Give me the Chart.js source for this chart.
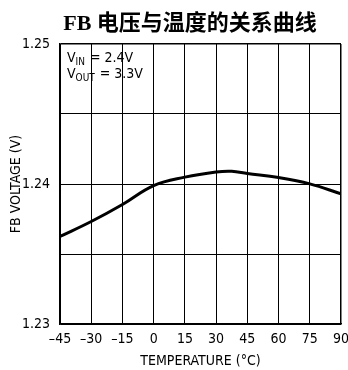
<!DOCTYPE html>
<html>
<head>
<meta charset="utf-8">
<script src="https://cdn.jsdelivr.net/npm/chart.js@4.4.0/dist/chart.umd.min.js"></script>
<style>
  html, body { margin: 0; padding: 0; background: #fff; }
  #wrap { width: 348px; height: 370px; }
</style>
</head>
<body>
<div id="wrap"><canvas id="c" width="348" height="370"></canvas></div>
<script>
// readings (temperature in degC, FB voltage in V)
var temps = [-45, -30, -15, 0, 15, 30, 37.5, 45, 60, 75, 90];
var fbVolts = [1.23625, 1.23732, 1.23854, 1.23989, 1.24049, 1.24086, 1.24091, 1.24075, 1.24046, 1.24001, 1.2393];

var xTicks = [-45, -30, -15, 0, 15, 30, 45, 60, 75, 90];
var yLabels = [1.23, 1.24, 1.25];

var chartTitle = 'FB 电压与温度的关系曲线';
var xTitle = 'TEMPERATURE (°C)';
var yTitle = 'FB VOLTAGE (V)';

var tickFont = { family: '"Liberation Sans Narrow", "DejaVu Sans Condensed", sans-serif', size: 14 };

var points = temps.map(function(t, i) { return { x: t, y: fbVolts[i] }; });

// title + the VIN/VOUT note inside the plot
var extras = {
    id: 'extras',
    afterDraw: function(chart) {
        var ctx = chart.ctx;
        ctx.save();
        ctx.fillStyle = '#000';
        ctx.textBaseline = 'alphabetic';
        ctx.textAlign = 'center';
        ctx.font = 'bold 22px "Liberation Serif", "Noto Sans CJK SC", serif';
        ctx.fillText(chartTitle, 190, 30);

        var note = function(x, y, sub, rest) {
            ctx.textAlign = 'left';
            ctx.font = '14px ' + tickFont.family;
            ctx.fillText('V', x, y);
            var w = ctx.measureText('V').width;
            ctx.font = '10px ' + tickFont.family;
            ctx.fillText(sub, x + w, y + 3);
            var w2 = ctx.measureText(sub).width;
            ctx.font = '14px ' + tickFont.family;
            ctx.fillText(rest, x + w + w2 + 1, y);
        };
        note(67, 62, 'IN', ' = 2.4V');
        note(67, 78, 'OUT', ' = 3.3V');
        ctx.restore();
    }
};

new Chart(document.getElementById('c'), {
    type: 'line',
    data: {
        datasets: [{
            data: points,
            borderColor: '#000',
            borderWidth: 3,
            pointRadius: 0,
            tension: 0.4,
            fill: false
        }]
    },
    options: {
        responsive: false,
        animation: false,
        layout: { padding: { top: 44, right: 7, left: 0, bottom: 0 } },
        plugins: {
            legend: { display: false },
            tooltip: { enabled: false }
        },
        scales: {
            x: {
                type: 'linear',
                min: -45,
                max: 90,
                afterBuildTicks: function(scale) {
                    scale.ticks = xTicks.map(function(v) { return { value: v }; });
                },
                afterFit: function(scale) {
                    scale.height = 46;
                    scale.paddingLeft = 0;
                    scale.paddingRight = 0;
                },
                ticks: {
                    color: '#000',
                    font: tickFont,
                    padding: 7,
                    maxRotation: 0,
                    autoSkip: false,
                    callback: function(v) { return v < 0 ? '\u2013' + Math.abs(v) : String(v); }
                },
                grid: {
                    color: '#000',
                    lineWidth: function(c) { return c.tick && c.tick.value === 90 ? 1.5 : 1; },
                    drawTicks: false
                },
                border: { color: '#000', width: 1.5 },
                title: {
                    display: true,
                    text: xTitle,
                    color: '#000',
                    font: tickFont,
                    padding: { top: 1, bottom: 0 }
                }
            },
            y: {
                min: 1.23,
                max: 1.25,
                afterFit: function(scale) {
                    scale.width = 60;
                    scale.paddingTop = 0;
                    scale.paddingBottom = 0;
                },
                ticks: {
                    stepSize: 0.005,
                    color: '#000',
                    font: tickFont,
                    padding: 10,
                    autoSkip: false,
                    callback: function(v) {
                        for (var i = 0; i < yLabels.length; i++) {
                            if (Math.abs(v - yLabels[i]) < 1e-7) return yLabels[i].toFixed(2);
                        }
                        return '';
                    }
                },
                grid: {
                    color: '#000',
                    lineWidth: function(c) { return c.tick && Math.abs(c.tick.value - 1.25) < 1e-7 ? 1.5 : 1; },
                    drawTicks: false
                },
                border: { color: '#000', width: 1.5 },
                title: {
                    display: true,
                    text: yTitle,
                    color: '#000',
                    font: tickFont,
                    padding: { top: 8, bottom: 0 }
                }
            }
        }
    },
    plugins: [extras]
});
</script>
</body>
</html>
